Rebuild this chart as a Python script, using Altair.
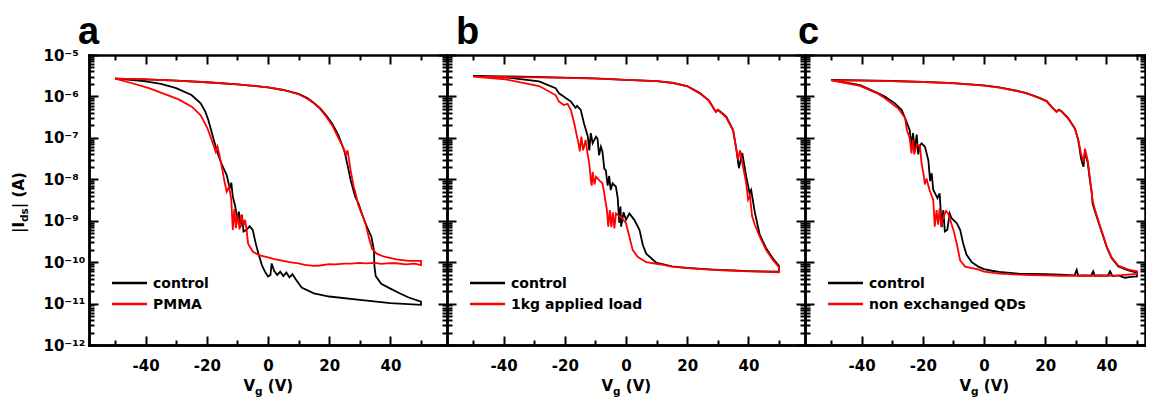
import altair as alt
import pandas as pd

# ---------------- data ----------------
# panel a : control vs PMMA
a_ctrl_fwd_v = [-50, -40, -30, -20, -10, 0, 5, 10, 13, 15, 17, 19, 21, 23, 25, 26, 27, 28.5, 29.5, 31,
                32.5, 33.8, 34.6, 34.8, 35.2, 37, 40, 43, 46, 50]
a_ctrl_fwd_i = [2.7e-6, 2.59e-6, 2.4e-6, 2.2e-6, 1.96e-6, 1.66e-6, 1.43e-6, 1.15e-6, 9e-7, 7e-7,
                5.2e-7, 3.5e-7, 2.2e-7, 1.17e-7, 4.7e-8, 2.2e-8, 9.6e-9, 3.8e-9, 2.7e-9, 1.26e-9,
                6.6e-10, 4.1e-10, 1.95e-10, 7.8e-11, 4.6e-11, 3e-11, 2.3e-11, 1.77e-11, 1.4e-11, 1.12e-11]
a_ctrl_rev_v = [50, 40, 30, 20, 15, 11, 9, 8, 7, 6, 5, 4, 3, 2, 1.2, 0.8, 0, -1, -2, -3,
                -4, -5, -6, -7, -8, -8.5, -9, -9.5, -10, -10.7, -11.5, -12, -12.5, -13.5, -15, -16.5,
                -18, -19.5, -20.5, -22, -25, -30, -35, -40, -45, -50]
a_ctrl_rev_i = [9.3e-12, 1.02e-11, 1.23e-11, 1.48e-11, 1.77e-11, 2.45e-11, 3.9e-11, 5.1e-11, 4.3e-11, 5.6e-11,
                4.6e-11, 5.9e-11, 4.9e-11, 6.2e-11, 9.3e-11, 4.9e-11, 4.5e-11, 5.9e-11, 8.5e-11, 1.48e-10,
                2.8e-10, 6e-10, 7.4e-10, 6e-10, 5.5e-10, 1.38e-9, 7e-10, 1.65e-9, 1.05e-9, 2.2e-9,
                3.8e-9, 8.3e-9, 6e-9, 1.26e-8, 2.2e-8, 4.3e-8, 1.07e-7, 2.7e-7, 4.3e-7, 6.8e-7,
                1.08e-6, 1.58e-6, 2e-6, 2.3e-6, 2.5e-6, 2.7e-6]
a_red_fwd_v = [-50, -40, -30, -20, -10, 0, 5, 10, 13, 15, 17, 19, 21, 23, 24.5, 25.5, 26, 27, 28, 28.5,
               29.5, 31, 32, 33, 34, 35.5, 38, 42, 46, 50]
a_red_fwd_i = [2.7e-6, 2.59e-6, 2.4e-6, 2.2e-6, 1.96e-6, 1.66e-6, 1.43e-6, 1.13e-6, 8.7e-7, 6.8e-7,
               5e-7, 3.3e-7, 2e-7, 1e-7, 6.1e-8, 3.9e-8, 5e-8, 1.66e-8, 6.6e-9, 5e-9,
               2.4e-9, 1.26e-9, 7.9e-10, 3.8e-10, 2.1e-10, 1.6e-10, 1.35e-10, 1.17e-10, 1.07e-10, 1.07e-10]
a_red_rev_v = [50, 48, 45, 42, 40, 37, 35, 32, 30, 27, 25, 22, 20, 17, 15, 12, 10, 7, 5, 2,
               0, -3, -5, -6.5, -7, -7.5, -8, -8.7, -9.3, -10, -10.5, -11, -11.5, -12, -12.7, -13.5,
               -14.2, -14.9, -15.8, -16.5, -17.1, -17.6, -18.4, -19.8, -22, -24.8, -29.2, -33.5, -38.9,
               -44.4, -50]
a_red_rev_i = [8.5e-11, 9.2e-11, 8.8e-11, 9.4e-11, 9.5e-11, 9.1e-11, 9.6e-11, 9.3e-11, 9.6e-11, 9.2e-11,
               9.2e-11, 8.8e-11, 9e-11, 8.3e-11, 8.1e-11, 8.6e-11, 9.3e-11, 1.0e-10, 1.07e-10, 1.18e-10,
               1.3e-10, 1.48e-10, 1.8e-10, 2.8e-10, 6e-10, 1.05e-9, 7.5e-10, 1.4e-9, 6.2e-10, 1.38e-9,
               6.6e-10, 1.9e-9, 6e-10, 3.2e-9, 6.6e-9, 5e-9, 8.7e-9, 1.66e-8, 3.6e-8, 6.1e-8,
               4.6e-8, 6e-8, 8.9e-8, 1.7e-7, 3.5e-7, 5.6e-7, 8.5e-7, 1.12e-6, 1.58e-6, 2.08e-6, 2.7e-6]

# panel b : control vs 1kg applied load
b_ctrl_fwd_v = [-50, -40, -30, -20, -10, 0, 10, 15, 20, 24, 27, 29, 29.4, 30, 31, 32.8, 35, 36.1, 36.9,
                37.5, 38, 39.3, 40.4, 40.9, 42.1, 43.7, 45.9, 48.1, 50]
b_ctrl_fwd_i = [3.15e-6, 3.05e-6, 2.95e-6, 2.85e-6, 2.72e-6, 2.52e-6, 2.35e-6, 2.14e-6, 1.78e-6, 1.22e-6,
                8.2e-7, 4.7e-7, 4.3e-7, 4.8e-7, 4.2e-7, 3.2e-7, 1.55e-7, 5.1e-8, 1.85e-8, 3e-8,
                4.3e-8, 1.15e-8, 4.6e-9, 5.5e-9, 1.6e-9, 4.6e-10, 2.1e-10, 1.2e-10, 8.2e-11]
b_ctrl_rev_v = [50, 45, 40, 35, 30, 26, 20, 15, 10.9, 9.8, 6.6, 5.5, 4.4, 2.7, 1.1, 0, -0.8, -1.6, -1.8,
                -2.2, -2.7, -3.3, -4.4, -5, -5.5, -6, -6.6, -7.1, -7.7, -8.2, -8.8, -9.3, -9.8, -10.9,
                -11.5, -12, -12.5, -13.7, -14.8, -16, -16.5, -18, -21.9, -23, -28.4, -39.5, -50]
b_ctrl_rev_i = [5.9e-11, 6.0e-11, 6.1e-11, 6.3e-11, 6.5e-11, 6.8e-11, 7.3e-11, 7.9e-11, 9.3e-11, 9.8e-11,
                1.6e-10, 2.6e-10, 6e-10, 1.05e-9, 1.5e-9, 1.05e-9, 1.6e-9, 7.2e-10, 2.2e-9, 9e-10,
                3.5e-9, 6.6e-9, 8e-9, 5.5e-9, 1.2e-8, 7e-9, 1.66e-8, 1.8e-8, 4.7e-8, 6.1e-8,
                3.8e-8, 9.5e-8, 1.07e-7, 7.4e-8, 1.3e-7, 5e-8, 1.1e-7, 2.2e-7, 4.7e-7, 5.9e-7,
                5.3e-7, 7.5e-7, 1.19e-6, 1.58e-6, 2.3e-6, 2.9e-6, 3.15e-6]
b_red_fwd_v = [-50, -40, -30, -20, -10, 0, 10, 15, 20, 24, 27, 29, 29.4, 30, 31, 32.8, 35, 36.1, 36.6,
               37.3, 38, 39.3, 39.9, 40.5, 41.2, 42.1, 43.7, 45.9, 48.1, 50]
b_red_fwd_i = [3.0e-6, 2.95e-6, 2.88e-6, 2.8e-6, 2.7e-6, 2.5e-6, 2.33e-6, 2.12e-6, 1.76e-6, 1.2e-6,
               8e-7, 4.6e-7, 4.2e-7, 4.7e-7, 4.1e-7, 3.1e-7, 1.5e-7, 5e-8, 3e-8, 5e-8,
               2.5e-8, 8e-9, 3.2e-9, 4e-9, 1.3e-9, 8e-10, 4.1e-10, 1.9e-10, 1.1e-10, 7.6e-11]
b_red_rev_v = [50, 45, 40, 35, 30, 26, 20, 15, 10.9, 6.6, 3.8, 2.2, 1.1, 0, -1.6, -3.3, -3.8, -4.3, -4.8,
               -5.3, -5.8, -6.3, -6.6, -7.1, -7.7, -8.5, -9.8, -10.3, -10.9, -11.2, -11.5, -12, -12.6,
               -13.2, -14.0, -14.6, -15.1, -15.6, -15.9, -16.9, -18, -19.1, -20.3, -21.9, -23, -28.4,
               -39.5, -50]
b_red_rev_i = [5.7e-11, 5.8e-11, 6.0e-11, 6.2e-11, 6.4e-11, 6.7e-11, 7.2e-11, 7.8e-11, 8.9e-11, 1.0e-10,
               1.35e-10, 1.95e-10, 4.1e-10, 8.7e-10, 1.2e-9, 1.5e-9, 6.5e-10, 1.6e-9, 7e-10, 1.8e-9,
               7.2e-10, 2e-9, 2.6e-9, 4.6e-9, 8e-9, 9e-9, 1.15e-8, 7.5e-9, 1.5e-8, 7e-9,
               9.6e-9, 2.4e-8, 4.3e-8, 8.9e-8, 5e-8, 1.07e-7, 4.7e-8, 8e-8, 9.8e-8, 2.2e-7,
               4.7e-7, 6.6e-7, 6.2e-7, 7.5e-7, 1.08e-6, 1.78e-6, 2.6e-6, 3.0e-6]

# panel c : control vs non exchanged QDs
c_ctrl_fwd_v = [-50, -40, -30, -20, -10, 0, 5, 11.2, 13.9, 17.7, 20.5, 22.1, 23.7, 24.5, 25.5, 27.5,
                29.7, 30.8, 31.7, 32.5, 33, 33.9, 34.6, 35.2, 35.5, 36.3, 37.9, 39, 40.1, 41.7, 43.9,
                47.2, 50]
c_ctrl_fwd_i = [2.5e-6, 2.45e-6, 2.36e-6, 2.25e-6, 2.1e-6, 1.85e-6, 1.65e-6, 1.35e-6, 1.2e-6, 9.5e-7,
                7.8e-7, 5.6e-7, 4.3e-7, 4.8e-7, 4.3e-7, 3e-7, 1.7e-7, 8.9e-8, 3.2e-8, 2e-8,
                4.7e-8, 2.5e-8, 9.6e-9, 5e-9, 2.6e-9, 1.65e-9, 7.2e-10, 4.1e-10, 2.3e-10, 1.25e-10,
                7.8e-11, 6.3e-11, 5.6e-11]
c_ctrl_rev_v = [50, 48, 46, 44, 42, 41.2, 40.5, 38, 36.2, 35.7, 35, 33, 30.8, 30.3, 29.6, 25, 20, 15,
                11.2, 5, 2.5, 0, -1.9, -4, -5.7, -6.8, -7.8, -8.9, -10.6, -11.2, -12, -12.8, -13.3,
                -13.8, -14.5, -15.2, -16.6, -17.1, -17.6, -18.2, -19.3, -20.4, -21, -21.5, -22, -22.6,
                -23.2, -23.7, -24.3, -25.8, -26.9, -29.1, -32.4, -34.5, -40.5, -50]
c_ctrl_rev_i = [4.5e-11, 4.4e-11, 4.2e-11, 4.8e-11, 4.6e-11, 6.0e-11, 4.7e-11, 4.8e-11, 4.7e-11, 6.0e-11,
                4.7e-11, 4.8e-11, 4.7e-11, 6.5e-11, 4.8e-11, 5.0e-11, 5.1e-11, 5.2e-11, 5.3e-11, 5.8e-11,
                6.2e-11, 6.8e-11, 7.8e-11, 1e-10, 1.5e-10, 2.8e-10, 6e-10, 8.7e-10, 1.15e-9, 1.5e-9,
                6e-10, 5.5e-10, 1.8e-9, 7e-10, 4.6e-9, 3.5e-9, 5.6e-9, 1.4e-8, 9e-9, 2.9e-8,
                6.1e-8, 7.4e-8, 6.5e-8, 4e-8, 1.2e-7, 5e-8, 1.3e-7, 6.5e-8, 1.55e-7, 3e-7,
                4.7e-7, 6.8e-7, 1e-6, 1.19e-6, 1.88e-6, 2.5e-6]
c_red_fwd_v = [-50, -40, -30, -20, -10, 0, 5, 11.2, 13.9, 17.7, 20.5, 22.1, 23.7, 24.5, 25.5, 27.5,
               29.7, 30.8, 31.7, 32.5, 33, 33.9, 34.6, 35.5, 36.3, 37.9, 39, 40.1, 41.7, 43.9, 47.2, 50]
c_red_fwd_i = [2.45e-6, 2.42e-6, 2.34e-6, 2.23e-6, 2.08e-6, 1.83e-6, 1.63e-6, 1.33e-6, 1.18e-6, 9.3e-7,
               7.6e-7, 5.5e-7, 4.2e-7, 4.7e-7, 4.2e-7, 2.9e-7, 1.65e-7, 9e-8, 4.2e-8, 2.6e-8,
               5.5e-8, 2.8e-8, 1.1e-8, 3e-9, 1.8e-9, 7.5e-10, 4.3e-10, 2.4e-10, 1.3e-10, 8.2e-11,
               6.6e-11, 6e-11]
c_red_rev_v = [50, 47, 44, 40, 35, 30, 25, 20, 15, 11.2, 5, 2.5, 0, -1.9, -4, -6.2, -7.8, -8.9, -10,
               -11.7, -12.4, -13.2, -14, -14.5, -15, -15.5, -16.1, -16.6, -17.8, -18.8, -19.3, -19.8,
               -20.4, -20.9, -21.9, -22.8, -23.2, -23.7, -24.3, -25.2, -25.8, -28, -32.4, -34.5,
               -40.5, -50]
c_red_rev_i = [5.2e-11, 5e-11, 4.8e-11, 4.7e-11, 4.7e-11, 4.7e-11, 4.7e-11, 4.8e-11, 4.9e-11, 5.0e-11,
               5.3e-11, 5.6e-11, 5.9e-11, 6.7e-11, 7.2e-11, 7.8e-11, 1.1e-10, 2.8e-10, 6e-10, 1.5e-9,
               1.7e-9, 1.3e-9, 7.2e-10, 2e-9, 8e-10, 1.8e-9, 7.2e-10, 3.2e-9, 5.5e-9, 1.05e-8,
               7.5e-9, 1.4e-8, 2.4e-8, 6.1e-8, 7e-8, 4e-8, 9e-8, 4.2e-8, 1.0e-7, 1.55e-7,
               3e-7, 5.1e-7, 9e-7, 1.15e-6, 1.8e-6, 2.45e-6]

panel_letters = ["a", "b", "c"]
legend_labels = {"a": ["control", "PMMA"],
                 "b": ["control", "1kg applied load"],
                 "c": ["control", "non exchanged QDs"]}
x_tick_values = [-50, -40, -30, -20, -10, 0, 10, 20, 30, 40, 50]
x_label_values = [-40, -20, 0, 20, 40]
y_exponents = [-12, -11, -10, -9, -8, -7, -6, -5]
x_title_parts = ["V", "g", "(V)"]
y_title_parts = ["|I", "ds", "| (A)"]

# ---------------- helpers ----------------
def loop_frame(fv, fi, rv, ri):
    v = list(fv) + list(rv)
    i = list(fi) + list(ri)
    return pd.DataFrame({"V": v, "I": i, "idx": list(range(len(v)))})


series = {
    "a": (loop_frame(a_ctrl_fwd_v, a_ctrl_fwd_i, a_ctrl_rev_v, a_ctrl_rev_i),
          loop_frame(a_red_fwd_v, a_red_fwd_i, a_red_rev_v, a_red_rev_i)),
    "b": (loop_frame(b_ctrl_fwd_v, b_ctrl_fwd_i, b_ctrl_rev_v, b_ctrl_rev_i),
          loop_frame(b_red_fwd_v, b_red_fwd_i, b_red_rev_v, b_red_rev_i)),
    "c": (loop_frame(c_ctrl_fwd_v, c_ctrl_fwd_i, c_ctrl_rev_v, c_ctrl_rev_i),
          loop_frame(c_red_fwd_v, c_red_fwd_i, c_red_rev_v, c_red_rev_i)),
}

y_major = [10.0 ** e for e in y_exponents]
y_all = y_major + [k * 10.0 ** e for e in y_exponents[:-1] for k in range(2, 10)]

SUP = str.maketrans("-0123456789", "⁻⁰¹²³⁴⁵⁶⁷⁸⁹")
label_expr = " : ".join(
    f"round(log(datum.value)/LN10) == {e} ? '10{str(e).translate(SUP)}'" for e in y_exponents
) + " : ''"

H = 290
PX_PER_V = 358 / 117.0
X_MIN = -58.5
FONT = "DejaVu Sans"
RED = "#ff0000"
ys = alt.Scale(type="log", domain=[1e-12, 1e-5], nice=False)

x_tick_size = {"condition": {"test": "datum.value % 20 == 0", "value": 9}, "value": 5}
y_tick_size = {"condition": {"test": "abs(log(datum.value)/LN10 - round(log(datum.value)/LN10)) < 0.01",
                             "value": 9}, "value": 5}
common = dict(grid=False, domainColor="black", domainWidth=2.5, domainCap="square",
              tickColor="black", tickWidth=2)


def text_layer(txt, x, y, size, dx=0, dy=0, angle=0, font=FONT):
    return alt.Chart(pd.DataFrame({"t": [txt]})).mark_text(
        font=font, fontSize=size, fontWeight="bold", align="left", baseline="alphabetic",
        dx=dx, dy=dy, angle=angle, color="black"
    ).encode(text="t:N", x=alt.value(x), y=alt.value(y))


def rule_layer(y, color):
    return alt.Chart(pd.DataFrame({"k": [0]})).mark_rule(color=color, strokeWidth=2.5).encode(
        x=alt.value(23), x2=alt.value(58), y=alt.value(y))


def make_panel(key, letter_x, show_y, W):
    xs = alt.Scale(domain=[X_MIN, X_MIN + W / PX_PER_V], nice=False, zero=False)
    ctrl_df, red_df = series[key]
    x_lab_axis = alt.Axis(orient="bottom", values=x_label_values, ticks=False, labelFont=FONT,
                          labelFontSize=15, labelFontWeight="bold", labelColor="black",
                          labelPadding=13, labelFlush=False,
                          labelExpr="replace(datum.label, '\u2212', '-')", **common)
    if show_y:
        y_lab_axis = alt.Axis(orient="left", values=y_major, ticks=False, labelExpr=label_expr,
                              labelFont=FONT, labelFontSize=15, labelFontWeight="bold",
                              labelColor="black", labelAlign="left", labelPadding=46,
                              labelBaseline="middle", labelOverlap=False, **common)
        black_y = alt.Y("I:Q", scale=ys, axis=y_lab_axis, title=None)
    else:
        black_y = alt.Y("I:Q", scale=ys, axis=None)

    black = alt.Chart(ctrl_df).mark_line(color="black", strokeWidth=1.8).encode(
        x=alt.X("V:Q", scale=xs, axis=x_lab_axis, title=None), y=black_y, order="idx:Q")
    red = alt.Chart(red_df).mark_line(color=RED, strokeWidth=1.8).encode(
        x=alt.X("V:Q", scale=xs, axis=None), y=alt.Y("I:Q", scale=ys, axis=None), order="idx:Q")

    frame_df = pd.DataFrame({"V": [0.0], "I": [1e-8]})
    frame1 = alt.Chart(frame_df).mark_point(opacity=0).encode(
        x=alt.X("V:Q", scale=xs, title=None,
                axis=alt.Axis(orient="top", offset=-H, values=x_tick_values, labels=False,
                              tickSize=x_tick_size, **common)),
        y=alt.Y("I:Q", scale=ys, title=None,
                axis=alt.Axis(orient="right", offset=-W, values=y_all, labels=False,
                              tickSize=y_tick_size, **common)))
    frame2 = alt.Chart(frame_df).mark_point(opacity=0).encode(
        x=alt.X("V:Q", scale=xs, title=None,
                axis=alt.Axis(orient="bottom", offset=-H, values=x_tick_values, labels=False,
                              tickSize=x_tick_size, **common)),
        y=alt.Y("I:Q", scale=ys, title=None,
                axis=alt.Axis(orient="left", offset=-W, values=y_all, labels=False,
                              tickSize=y_tick_size, **common)))

    labs = legend_labels[key]
    xc = (0 - X_MIN) * PX_PER_V - 24.5   # start of the x-axis title, centred on V = 0
    layers = [frame1, frame2, black, red,
              rule_layer(228, "black"), rule_layer(249, RED),
              text_layer(labs[0], 64, 233, 14), text_layer(labs[1], 64, 254, 14),
              text_layer(key, letter_x, -11, 38, font="Liberation Sans"),
              text_layer(x_title_parts[0], xc, 336, 15),
              text_layer(x_title_parts[1], xc, 336, 10.5, dx=11.6, dy=4),
              text_layer(x_title_parts[2], xc, 336, 15, dx=24.3)]
    if show_y:
        layers += [text_layer(y_title_parts[0], -65, 178, 15, angle=270),
                   text_layer(y_title_parts[1], -65, 178, 10.5, dx=11.05, dy=4, angle=270),
                   text_layer(y_title_parts[2], -65, 178, 15, dx=24.85, angle=270)]
    return alt.layer(*layers).resolve_axis(x="independent", y="independent").properties(
        width=W, height=H)


pa = make_panel("a", -11, True, 358)
pb = make_panel("b", 9, False, 358)
pc = make_panel("c", -7, False, 340)

chart = alt.hconcat(pa, pb, pc, spacing=0, bounds="flush").properties(
    padding={"left": 4, "top": 6, "right": 0, "bottom": 0}
).configure_view(stroke=None)

chart.save("out.html", embed_options={"renderer": "svg", "actions": False})
